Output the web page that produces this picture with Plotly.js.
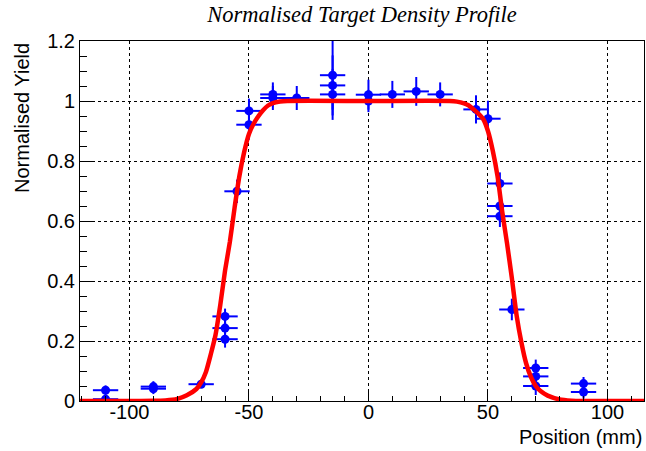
<!DOCTYPE html>
<html>
<head>
<meta charset="utf-8">
<script src="https://cdn.plot.ly/plotly-3.0.1.min.js"></script>
<style>html,body{margin:0;padding:0;background:#fff;}#chart{width:646px;height:451px;}</style>
</head>
<body>
<div id="chart"></div>
<script>
// Measured data points (position in mm, normalised yield)
var positions = [-110, -110, -90, -90, -70, -60, -60, -60, -55, -50, -50, -40, -40, -30, -15, -15, -15, 0, 0, 10, 20, 30, 45, 50, 55, 55, 55, 60, 70, 70, 70, 90, 90];
var yields    = [0.036, 0.006, 0.048, 0.041, 0.056, 0.282, 0.243, 0.206, 0.699, 0.967, 0.921, 1.022, 1.010, 1.010, 1.086, 1.052, 1.022, 1.021, 1.000, 1.022, 1.032, 1.022, 0.972, 0.941, 0.725, 0.650, 0.616, 0.305, 0.110, 0.082, 0.050, 0.058, 0.030];
var yieldErr  = [0.016, 0.010, 0.018, 0.018, 0.012, 0.026, 0.026, 0.028, 0.039, 0.041, 0.050, 0.040, 0.040, 0.040, 0.115, 0.100, 0.085, 0.050, 0.037, 0.045, 0.048, 0.040, 0.047, 0.060, 0.037, 0.036, 0.036, 0.036, 0.028, 0.028, 0.030, 0.022, 0.022];
var posErr    = [5.3, 5.3, 5.3, 5.3, 5.3, 5.3, 5.3, 5.3, 5.3, 5.3, 5.3, 5.3, 5.3, 5.3, 5.3, 5.3, 5.3, 5.3, 5.3, 5.3, 5.3, 5.3, 5.3, 5.3, 5.3, 5.3, 5.3, 5.3, 5.3, 5.3, 5.3, 5.3, 5.3];

// Fit curve, values
var fitX = [-120.7, -100, -90, -85, -80, -76, -72, -70, -68, -66, -64, -62, -60, -58, -56, -54, -52, -50, -48, -46, -44, -42, -40, -37, -34, 0, 34, 37, 40, 42, 44, 46, 48, 50, 52, 54, 56, 58, 60, 62, 64, 66, 68, 70, 72, 75, 80, 85, 90, 100, 115.3];
var fitY = [0, 0, 0.0005, 0.002, 0.007, 0.019, 0.040, 0.062, 0.097, 0.155, 0.220, 0.320, 0.435, 0.530, 0.645, 0.750, 0.830, 0.890, 0.925, 0.950, 0.970, 0.985, 0.993, 0.998, 1.0, 1.0, 1.0, 0.998, 0.992, 0.985, 0.972, 0.958, 0.940, 0.900, 0.835, 0.750, 0.630, 0.525, 0.410, 0.285, 0.195, 0.125, 0.080, 0.050, 0.033, 0.018, 0.005, 0.001, 0, 0, 0];

var xTickVals = [-100, -50, 0, 50, 100];
var xTickText = ['-100', '-50', '0', '50', '100'];
var yTickVals = [0, 0.2, 0.4, 0.6, 0.8, 1, 1.2];
var yTickText = ['0', '0.2', '0.4', '0.6', '0.8', '1', '1.2'];

var pts = {
  type: 'scatter', mode: 'markers',
  x: positions, y: yields,
  error_y: {type: 'data', array: yieldErr, visible: true, color: '#0000ff', thickness: 2, width: 0},
  error_x: {type: 'data', array: posErr, visible: true, color: '#0000ff', thickness: 2, width: 0},
  marker: {color: '#0000ff', size: 9},
  cliponaxis: true,
  hoverinfo: 'skip'
};
var fit = {
  type: 'scatter', mode: 'lines',
  x: fitX, y: fitY,
  line: {color: '#ff0000', width: 4.5, shape: 'spline', smoothing: 0.6},
  hoverinfo: 'skip'
};

var axisFont = {family: 'Liberation Sans, Arial, sans-serif', size: 20, color: '#000'};
var layout = {
  width: 646, height: 451,
  margin: {l: 80, r: 2, t: 41, b: 50},
  paper_bgcolor: '#fff', plot_bgcolor: '#fff',
  showlegend: false,
  title: {
    text: 'Normalised Target Density Profile',
    font: {family: 'Liberation Serif, Times New Roman, serif', size: 22.5, style: 'italic', color: '#000'},
    xref: 'paper', x: 0.5, xanchor: 'center',
    yref: 'container', y: 1 - 14 / 451, yanchor: 'middle'
  },
  xaxis: {
    range: [-120.7, 115.3],
    tickmode: 'array', tickvals: xTickVals, ticktext: xTickText,
    ticks: 'inside', ticklen: 10, tickwidth: 1, tickcolor: '#000',
    minor: {dtick: 10, ticks: 'inside', ticklen: 5, tickwidth: 1, tickcolor: '#000', showgrid: false},
    showgrid: true, gridcolor: '#000', gridwidth: 1, griddash: 'dot',
    showline: true, linecolor: '#000', linewidth: 1, mirror: true,
    zeroline: false, tickfont: axisFont, ticklabelstandoff: -7
  },
  yaxis: {
    range: [0, 1.2],
    tickmode: 'array', tickvals: yTickVals, ticktext: yTickText,
    ticks: 'inside', ticklen: 14, tickwidth: 1, tickcolor: '#000',
    minor: {dtick: 0.05, ticks: 'inside', ticklen: 7, tickwidth: 1, tickcolor: '#000', showgrid: false},
    showgrid: true, gridcolor: '#000', gridwidth: 1, griddash: 'dot',
    showline: true, linecolor: '#000', linewidth: 1, mirror: true,
    zeroline: false, tickfont: axisFont, ticklabelstandoff: 0
  },
  annotations: [
    {text: 'Normalised Yield', xref: 'paper', yref: 'paper', x: 0, y: 1, xanchor: 'center', yanchor: 'top',
     xshift: -58, textangle: -90, showarrow: false, font: axisFont},
    {text: 'Position (mm)', xref: 'paper', yref: 'paper', x: 1, y: 0, xanchor: 'right', yanchor: 'middle',
     yshift: -36, showarrow: false, font: axisFont}
  ]
};
Plotly.newPlot('chart', [pts, fit], layout, {displayModeBar: false, staticPlot: true});
</script>
</body>
</html>
